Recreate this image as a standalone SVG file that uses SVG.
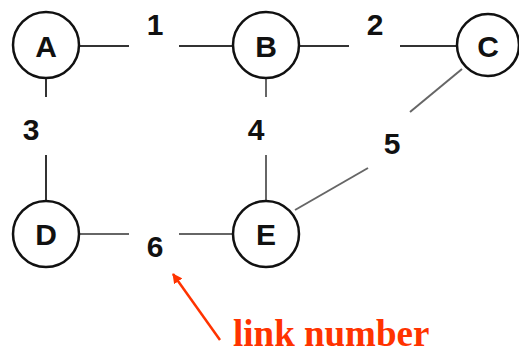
<svg xmlns="http://www.w3.org/2000/svg" width="519" height="355" viewBox="0 0 519 355">
<style>
.node circle{fill:#fff;stroke:#111;stroke-width:2.5}
.node text,.lbl{font-family:"Liberation Sans",Arial,sans-serif;font-weight:bold;font-size:30px;fill:#111;text-anchor:middle}
.e{stroke:#333;stroke-width:2}
.g{stroke:#666;stroke-width:2}
</style>
<defs>
<marker id="ah" markerWidth="10" markerHeight="10" refX="9" refY="5" orient="auto" markerUnits="userSpaceOnUse" viewBox="0 0 10 10">
<path d="M0,0 L10,5 L0,10 z" fill="#ff3300"/>
</marker>
</defs>
<g id="connectors">
<line class="e" x1="79" y1="46" x2="129" y2="46"/>
<line class="e" x1="179" y1="46" x2="234" y2="46"/>
<line class="e" x1="298" y1="46" x2="349" y2="46"/>
<line class="e" x1="400" y1="46" x2="457" y2="46"/>
<line class="e" x1="46" y1="79" x2="46" y2="97"/>
<line class="e" x1="46" y1="155" x2="46" y2="200"/>
<line class="g" x1="266" y1="79" x2="266" y2="97"/>
<line class="g" x1="266" y1="155" x2="266" y2="200"/>
<line class="g" x1="79" y1="234" x2="129" y2="234"/>
<line class="g" x1="179" y1="234" x2="234" y2="234"/>
<line class="g" x1="462" y1="69" x2="410" y2="112"/>
<line class="g" x1="368" y1="168" x2="295" y2="210"/>
<text class="lbl" x="155" y="35">1</text>
<text class="lbl" x="375" y="35">2</text>
<text class="lbl" x="31" y="140">3</text>
<text class="lbl" x="256" y="140">4</text>
<text class="lbl" x="392" y="154">5</text>
<text class="lbl" x="155" y="257">6</text>
</g>
<g id="A" class="node"><circle cx="46" cy="45" r="33"/><text x="46" y="57">A</text></g>
<g id="B" class="node"><circle cx="266" cy="45" r="33"/><text x="266" y="57">B</text></g>
<g id="C" class="node"><circle cx="488" cy="45" r="31"/><text x="488" y="57">C</text></g>
<g id="D" class="node"><circle cx="46" cy="234" r="33"/><text x="46" y="245">D</text></g>
<g id="E" class="node"><circle cx="266" cy="234" r="33"/><text x="266" y="245">E</text></g>
<g id="annotation">
<line x1="220" y1="340" x2="173" y2="274" stroke="#ff3300" stroke-width="2.5" marker-end="url(#ah)"/>
<text x="233" y="346" font-family="'Liberation Serif','Times New Roman',serif" font-weight="bold" font-size="37" fill="#ff3300">link number</text>
</g>
</svg>
